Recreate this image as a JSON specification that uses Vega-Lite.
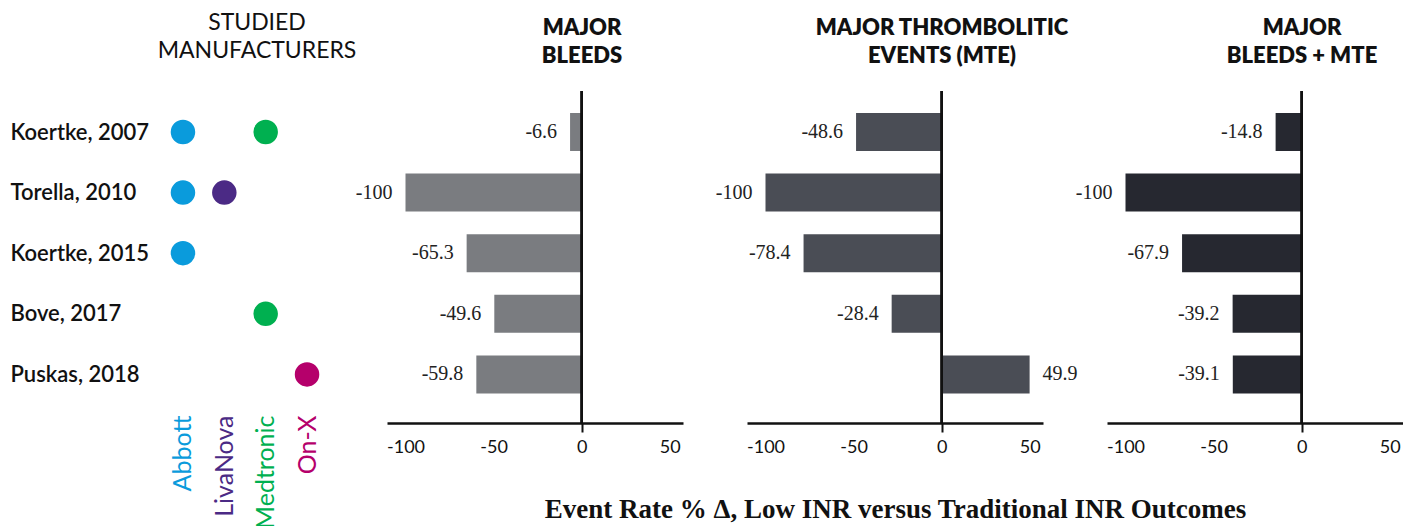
{
  "$schema": "https://vega.github.io/schema/vega-lite/v6.json",
  "padding": {"left": 10, "top": 12, "right": 0, "bottom": 0},
  "background": "white",
  "config": {
    "view": {"stroke": null},
    "locale": {"number": {"decimal": ".", "thousands": ",", "grouping": [3], "currency": ["$", ""], "minus": "-"}},
    "title": {"font": "Lato", "fontSize": 22, "fontWeight": 800, "color": "#111111", "lineHeight": 28, "frame": "group", "offset": 22}
  },
  "datasets": {
    "bars": [
      {"study": "Koertke, 2007", "measure": "bleeds", "value": -6.6},
      {"study": "Torella, 2010", "measure": "bleeds", "value": -100},
      {"study": "Koertke, 2015", "measure": "bleeds", "value": -65.3},
      {"study": "Bove, 2017", "measure": "bleeds", "value": -49.6},
      {"study": "Puskas, 2018", "measure": "bleeds", "value": -59.8},
      {"study": "Koertke, 2007", "measure": "mte", "value": -48.6},
      {"study": "Torella, 2010", "measure": "mte", "value": -100},
      {"study": "Koertke, 2015", "measure": "mte", "value": -78.4},
      {"study": "Bove, 2017", "measure": "mte", "value": -28.4},
      {"study": "Puskas, 2018", "measure": "mte", "value": 49.9},
      {"study": "Koertke, 2007", "measure": "both", "value": -14.8},
      {"study": "Torella, 2010", "measure": "both", "value": -100},
      {"study": "Koertke, 2015", "measure": "both", "value": -67.9},
      {"study": "Bove, 2017", "measure": "both", "value": -39.2},
      {"study": "Puskas, 2018", "measure": "both", "value": -39.1}
    ],
    "makers": [
      {"study": "Koertke, 2007", "maker": "Abbott"},
      {"study": "Koertke, 2007", "maker": "Medtronic"},
      {"study": "Torella, 2010", "maker": "Abbott"},
      {"study": "Torella, 2010", "maker": "LivaNova"},
      {"study": "Koertke, 2015", "maker": "Abbott"},
      {"study": "Bove, 2017", "maker": "Medtronic"},
      {"study": "Puskas, 2018", "maker": "On-X"}
    ]
  },
  "bounds": "flush",
  "spacing": 64,
  "hconcat": [
    {
      "width": 156,
      "height": 332,
      "title": {"text": ["STUDIED", "MANUFACTURERS"], "fontWeight": "normal", "fontSize": 23, "dx": 12, "offset": 28},
      "data": {"name": "makers"},
      "mark": {"type": "circle", "size": 600, "opacity": 1},
      "encoding": {
        "x": {
          "field": "maker", "type": "nominal",
          "scale": {"type": "point", "domain": ["Abbott", "LivaNova", "Medtronic", "On-X"], "padding": 0.386},
          "axis": {
            "orient": "bottom", "title": null, "domain": false, "ticks": false,
            "labelAngle": -90, "labelAlign": "right", "labelBaseline": "middle", "labelPadding": -8,
            "labelFont": "Lato", "labelFontSize": 25,
            "labelColor": {"condition": [
              {"test": "datum.value === 'Abbott'", "value": "#0a9bdc"},
              {"test": "datum.value === 'LivaNova'", "value": "#4b2a85"},
              {"test": "datum.value === 'Medtronic'", "value": "#00b050"}
            ], "value": "#b5006b"}
          }
        },
        "y": {
          "field": "study", "type": "nominal",
          "scale": {"domain": ["Koertke, 2007", "Torella, 2010", "Koertke, 2015", "Bove, 2017", "Puskas, 2018"], "range": [10.7, 313.7], "paddingInner": 0.373, "paddingOuter": 0.1865},
          "axis": {"title": null, "domain": false, "ticks": false, "labelAlign": "left", "labelPadding": 157, "labelFont": "Lato", "labelFontWeight": 600, "labelFontSize": 22, "labelColor": "#111111"}
        },
        "color": {
          "field": "maker", "type": "nominal",
          "scale": {"domain": ["Abbott", "LivaNova", "Medtronic", "On-X"], "range": ["#0a9bdc", "#4b2a85", "#00b050", "#b5006b"]},
          "legend": null
        }
      }
    },
    {
      "width": 296,
      "height": 332,
      "title": {"text": ["MAJOR", "BLEEDS"], "dx": 47},
      "data": {"name": "bars"},
      "transform": [{"filter": "datum.measure === 'bleeds'"}],
      "encoding": {
        "y": {
          "field": "study", "type": "nominal",
          "scale": {"domain": ["Koertke, 2007", "Torella, 2010", "Koertke, 2015", "Bove, 2017", "Puskas, 2018"], "range": [10.7, 313.7], "paddingInner": 0.373, "paddingOuter": 0.1865},
          "axis": null
        }
      },
      "layer": [
        {
          "mark": {"type": "bar", "color": "#7a7c80"},
          "encoding": {
            "x": {
              "field": "value", "type": "quantitative",
              "scale": {"domain": [-110.5, 57.5], "nice": false, "zero": false},
              "axis": {
                "values": [-100, -50, 0, 50], "title": null, "grid": false,
                "domainColor": "#111111", "domainWidth": 2.5,
                "ticks": true, "tickSize": 9, "tickWidth": 2, "tickColor": "#111111",
                "tickOpacity": {"condition": {"test": "datum.value === 0", "value": 1}, "value": 0},
                "labelFont": "Lato", "labelFontSize": 18, "labelColor": "#111111", "labelPadding": 6, "labelFlush": false
              }
            }
          }
        },
        {
          "transform": [{"filter": "datum.value < 0"}],
          "mark": {"type": "text", "align": "right", "baseline": "middle", "dx": -13, "font": "Liberation Serif", "fontSize": 20, "color": "#222222"},
          "encoding": {"x": {"field": "value", "type": "quantitative"}, "text": {"field": "value", "type": "quantitative", "format": ".1~f"}}
        },
        {
          "transform": [{"filter": "datum.value >= 0"}],
          "mark": {"type": "text", "align": "left", "baseline": "middle", "dx": 13, "font": "Liberation Serif", "fontSize": 20, "color": "#222222"},
          "encoding": {"x": {"field": "value", "type": "quantitative"}, "text": {"field": "value", "type": "quantitative", "format": ".1~f"}}
        },
        {
          "mark": {"type": "rule", "color": "#111111", "strokeWidth": 2},
          "encoding": {"x": {"datum": 0}, "y": null}
        }
      ]
    },
    {
      "width": 296,
      "height": 332,
      "title": {"text": ["MAJOR THROMBOLITIC", "EVENTS (MTE)"], "dx": 47},
      "data": {"name": "bars"},
      "transform": [{"filter": "datum.measure === 'mte'"}],
      "encoding": {
        "y": {
          "field": "study", "type": "nominal",
          "scale": {"domain": ["Koertke, 2007", "Torella, 2010", "Koertke, 2015", "Bove, 2017", "Puskas, 2018"], "range": [10.7, 313.7], "paddingInner": 0.373, "paddingOuter": 0.1865},
          "axis": null
        }
      },
      "layer": [
        {
          "mark": {"type": "bar", "color": "#4a4d55"},
          "encoding": {
            "x": {
              "field": "value", "type": "quantitative",
              "scale": {"domain": [-110.5, 57.5], "nice": false, "zero": false},
              "axis": {
                "values": [-100, -50, 0, 50],
                "title": "Event Rate % Δ, Low INR versus Traditional INR Outcomes",
                "titleFont": "Liberation Serif", "titleFontSize": 27, "titleFontWeight": "bold", "titleColor": "#111111", "titlePadding": 40,
                "grid": false,
                "domainColor": "#111111", "domainWidth": 2.5,
                "ticks": true, "tickSize": 9, "tickWidth": 2, "tickColor": "#111111",
                "tickOpacity": {"condition": {"test": "datum.value === 0", "value": 1}, "value": 0},
                "labelFont": "Lato", "labelFontSize": 18, "labelColor": "#111111", "labelPadding": 6, "labelFlush": false
              }
            }
          }
        },
        {
          "transform": [{"filter": "datum.value < 0"}],
          "mark": {"type": "text", "align": "right", "baseline": "middle", "dx": -13, "font": "Liberation Serif", "fontSize": 20, "color": "#222222"},
          "encoding": {"x": {"field": "value", "type": "quantitative"}, "text": {"field": "value", "type": "quantitative", "format": ".1~f"}}
        },
        {
          "transform": [{"filter": "datum.value >= 0"}],
          "mark": {"type": "text", "align": "left", "baseline": "middle", "dx": 13, "font": "Liberation Serif", "fontSize": 20, "color": "#222222"},
          "encoding": {"x": {"field": "value", "type": "quantitative"}, "text": {"field": "value", "type": "quantitative", "format": ".1~f"}}
        },
        {
          "mark": {"type": "rule", "color": "#111111", "strokeWidth": 2},
          "encoding": {"x": {"datum": 0}, "y": null}
        }
      ]
    },
    {
      "width": 296,
      "height": 332,
      "title": {"text": ["MAJOR", "BLEEDS + MTE"], "dx": 47},
      "data": {"name": "bars"},
      "transform": [{"filter": "datum.measure === 'both'"}],
      "encoding": {
        "y": {
          "field": "study", "type": "nominal",
          "scale": {"domain": ["Koertke, 2007", "Torella, 2010", "Koertke, 2015", "Bove, 2017", "Puskas, 2018"], "range": [10.7, 313.7], "paddingInner": 0.373, "paddingOuter": 0.1865},
          "axis": null
        }
      },
      "layer": [
        {
          "mark": {"type": "bar", "color": "#262830"},
          "encoding": {
            "x": {
              "field": "value", "type": "quantitative",
              "scale": {"domain": [-110.5, 57.5], "nice": false, "zero": false},
              "axis": {
                "values": [-100, -50, 0, 50], "title": null, "grid": false,
                "domainColor": "#111111", "domainWidth": 2.5,
                "ticks": true, "tickSize": 9, "tickWidth": 2, "tickColor": "#111111",
                "tickOpacity": {"condition": {"test": "datum.value === 0", "value": 1}, "value": 0},
                "labelFont": "Lato", "labelFontSize": 18, "labelColor": "#111111", "labelPadding": 6, "labelFlush": false
              }
            }
          }
        },
        {
          "transform": [{"filter": "datum.value < 0"}],
          "mark": {"type": "text", "align": "right", "baseline": "middle", "dx": -13, "font": "Liberation Serif", "fontSize": 20, "color": "#222222"},
          "encoding": {"x": {"field": "value", "type": "quantitative"}, "text": {"field": "value", "type": "quantitative", "format": ".1~f"}}
        },
        {
          "transform": [{"filter": "datum.value >= 0"}],
          "mark": {"type": "text", "align": "left", "baseline": "middle", "dx": 13, "font": "Liberation Serif", "fontSize": 20, "color": "#222222"},
          "encoding": {"x": {"field": "value", "type": "quantitative"}, "text": {"field": "value", "type": "quantitative", "format": ".1~f"}}
        },
        {
          "mark": {"type": "rule", "color": "#111111", "strokeWidth": 2},
          "encoding": {"x": {"datum": 0}, "y": null}
        }
      ]
    }
  ]
}
